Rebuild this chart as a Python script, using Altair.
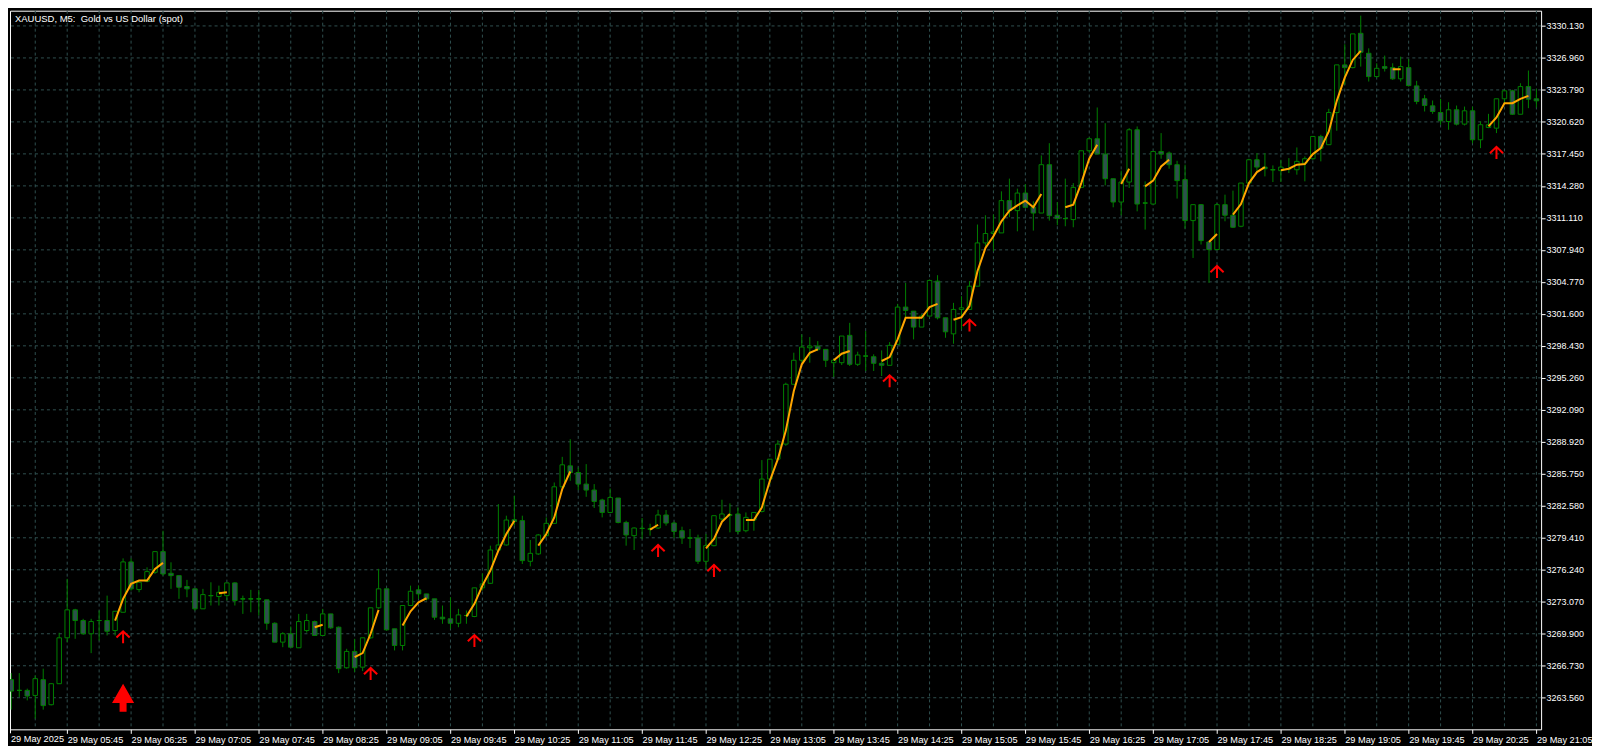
import json
import altair as alt
import pandas as pd

# ---------------- data ----------------
title_text = "XAUUSD, M5:\u00a0 Gold vs US Dollar (spot)"
first_label = "29 May 2025"

opens = [3262.58, 3265.35, 3264.29, 3264.29, 3263.79, 3265.35, 3262.87, 3264.95, 3269.50, 3272.27,
         3271.21, 3269.90, 3271.21, 3271.21, 3270.22, 3272.03, 3277.02, 3274.28, 3275.10, 3275.99,
         3278.04, 3275.89, 3275.66, 3274.58, 3274.35, 3272.37, 3273.68, 3273.59, 3273.68, 3274.94,
         3273.36, 3273.36, 3273.36, 3273.26, 3270.94, 3269.07, 3269.90, 3268.51, 3270.22, 3271.11,
         3269.73, 3271.87, 3270.55, 3266.53, 3268.15, 3266.59, 3269.50, 3272.47, 3274.35, 3270.39,
         3268.74, 3272.70, 3274.25, 3273.85, 3273.36, 3271.54, 3271.38, 3270.94, 3271.71, 3271.61,
         3274.45, 3274.90, 3278.20, 3278.70, 3281.20, 3281.11, 3277.08, 3277.81, 3279.62, 3280.84,
         3284.46, 3286.54, 3285.88, 3284.73, 3284.14, 3283.15, 3281.92, 3283.35, 3280.93, 3279.62,
         3280.34, 3280.28, 3280.38, 3281.67, 3280.87, 3280.11, 3279.39, 3279.39, 3277.08, 3278.63,
         3281.27, 3281.67, 3281.77, 3280.11, 3281.17, 3282.02, 3285.23, 3287.20, 3288.69, 3294.62,
         3297.00, 3298.24, 3298.41, 3298.08, 3296.76, 3296.76, 3299.47, 3296.60, 3297.42, 3297.35,
         3296.70, 3296.50, 3298.58, 3302.27, 3301.87, 3300.29, 3301.38, 3304.84, 3301.21, 3299.62,
         3302.04, 3302.04, 3304.34, 3308.63, 3309.56, 3309.62, 3312.82, 3311.83, 3313.57, 3312.16,
         3311.59, 3316.38, 3311.37, 3311.04, 3310.94, 3314.13, 3317.76, 3318.95, 3317.43, 3314.99,
         3312.68, 3314.66, 3319.84, 3312.58, 3312.48, 3317.69, 3317.53, 3316.38, 3314.90, 3310.84,
         3312.42, 3308.72, 3307.97, 3312.42, 3311.37, 3310.28, 3314.56, 3316.87, 3316.14, 3315.88,
         3315.79, 3315.98, 3315.88, 3316.54, 3316.97, 3319.18, 3318.36, 3321.55, 3326.27, 3326.00,
         3329.40, 3327.42, 3325.11, 3326.10, 3326.00, 3324.89, 3326.00, 3324.19, 3322.91, 3322.21,
         3321.55, 3320.66, 3321.82, 3320.40, 3321.72, 3318.85, 3320.07, 3320.00, 3322.91, 3323.70,
         3321.38, 3324.12, 3322.91]
highs = [3266.07, 3266.00, 3266.00, 3264.46, 3265.77, 3266.44, 3265.00, 3270.00, 3275.34, 3272.37,
         3271.38, 3271.38, 3272.20, 3273.68, 3272.13, 3277.37, 3277.37, 3275.00, 3276.48, 3278.04,
         3280.11, 3276.98, 3275.66, 3275.24, 3274.35, 3274.35, 3275.00, 3274.67, 3274.94, 3275.00,
         3273.68, 3274.25, 3274.25, 3273.26, 3271.04, 3270.05, 3270.62, 3271.87, 3271.87, 3271.21,
         3272.37, 3271.87, 3270.62, 3268.41, 3269.40, 3269.50, 3272.47, 3276.33, 3274.35, 3270.39,
         3272.70, 3274.67, 3274.67, 3273.85, 3273.36, 3272.70, 3273.52, 3272.37, 3272.20, 3274.45,
         3275.89, 3278.63, 3282.75, 3281.60, 3283.57, 3281.60, 3279.19, 3279.79, 3281.43, 3284.89,
         3287.43, 3289.18, 3286.37, 3286.71, 3284.73, 3283.28, 3284.30, 3283.35, 3281.10, 3280.44,
         3281.37, 3280.80, 3282.19, 3282.16, 3281.00, 3280.51, 3280.28, 3279.72, 3279.79, 3281.60,
         3283.18, 3282.82, 3282.42, 3281.92, 3281.92, 3287.11, 3287.20, 3289.08, 3294.78, 3297.75,
         3299.57, 3299.30, 3298.90, 3298.08, 3297.10, 3299.40, 3300.71, 3297.85, 3299.89, 3297.59,
         3297.98, 3298.80, 3302.59, 3304.67, 3301.87, 3301.57, 3305.01, 3305.43, 3301.21, 3302.69,
         3303.35, 3304.84, 3310.45, 3311.37, 3311.44, 3313.74, 3315.00, 3314.01, 3314.46, 3312.75,
         3317.30, 3318.51, 3312.68, 3315.00, 3314.56, 3317.76, 3319.08, 3322.05, 3320.49, 3314.99,
         3315.79, 3320.00, 3320.17, 3314.73, 3317.69, 3319.51, 3317.69, 3316.77, 3316.38, 3312.42,
         3312.48, 3308.72, 3312.58, 3313.41, 3313.81, 3314.56, 3316.97, 3317.53, 3317.53, 3316.31,
         3316.87, 3317.03, 3318.09, 3317.20, 3319.18, 3319.35, 3321.92, 3326.27, 3328.31, 3329.34,
         3331.15, 3327.91, 3326.43, 3327.19, 3326.43, 3327.09, 3326.86, 3324.69, 3323.30, 3322.74,
         3322.91, 3322.57, 3322.24, 3322.14, 3322.14, 3320.66, 3321.42, 3322.91, 3323.80, 3323.80,
         3324.45, 3325.71, 3323.90]
lows = [3262.11, 3262.38, 3263.63, 3263.30, 3261.49, 3262.38, 3262.80, 3264.95, 3269.07, 3269.40,
        3269.80, 3267.98, 3269.23, 3269.73, 3269.73, 3272.03, 3274.18, 3274.01, 3275.00, 3275.83,
        3275.66, 3274.35, 3273.36, 3273.52, 3272.20, 3272.37, 3272.70, 3272.70, 3273.19, 3272.70,
        3271.87, 3272.03, 3271.71, 3270.29, 3269.07, 3268.57, 3268.57, 3268.51, 3270.02, 3269.73,
        3269.73, 3270.39, 3266.00, 3266.44, 3266.10, 3266.20, 3269.40, 3272.37, 3270.22, 3268.25,
        3268.25, 3272.70, 3273.36, 3273.19, 3271.28, 3270.89, 3270.39, 3270.55, 3270.89, 3271.54,
        3274.18, 3274.84, 3278.13, 3278.63, 3280.61, 3276.82, 3276.58, 3277.71, 3279.52, 3280.78,
        3284.40, 3285.06, 3284.14, 3283.47, 3282.36, 3281.43, 3281.89, 3280.84, 3278.63, 3278.20,
        3279.29, 3279.62, 3280.28, 3280.61, 3279.39, 3278.80, 3278.40, 3276.82, 3276.33, 3278.56,
        3281.10, 3279.95, 3279.78, 3279.95, 3280.11, 3281.92, 3284.73, 3287.20, 3288.52, 3294.62,
        3296.76, 3296.76, 3297.91, 3296.33, 3295.35, 3296.53, 3296.43, 3296.43, 3295.94, 3295.94,
        3295.44, 3296.50, 3298.58, 3301.21, 3299.07, 3300.29, 3301.38, 3301.05, 3299.23, 3298.64,
        3300.06, 3302.04, 3304.34, 3307.97, 3307.80, 3309.62, 3311.17, 3309.78, 3312.09, 3309.85,
        3311.59, 3310.84, 3310.38, 3310.28, 3310.18, 3314.13, 3317.53, 3317.43, 3314.33, 3312.16,
        3311.37, 3314.07, 3311.76, 3309.95, 3312.45, 3316.97, 3315.98, 3313.02, 3310.05, 3307.14,
        3308.47, 3304.67, 3307.90, 3310.77, 3310.11, 3310.18, 3314.46, 3315.72, 3315.22, 3314.66,
        3314.66, 3315.55, 3315.39, 3314.73, 3316.87, 3316.71, 3318.36, 3319.74, 3324.29, 3325.93,
        3326.10, 3324.62, 3325.01, 3325.61, 3324.79, 3324.62, 3324.12, 3322.37, 3321.65, 3321.42,
        3320.34, 3319.84, 3320.27, 3320.27, 3318.51, 3318.02, 3320.00, 3319.51, 3322.47, 3321.32,
        3321.38, 3321.98, 3322.05]
closes = [3265.35, 3264.22, 3264.29, 3263.73, 3265.45, 3262.78, 3264.95, 3269.50, 3272.27, 3271.21,
          3269.90, 3271.11, 3271.21, 3270.15, 3272.13, 3277.02, 3274.35, 3275.00, 3276.06, 3278.04,
          3275.83, 3275.66, 3274.51, 3274.35, 3272.37, 3273.78, 3273.68, 3274.01, 3274.94, 3273.19,
          3273.36, 3273.36, 3273.36, 3270.94, 3269.07, 3269.90, 3268.57, 3271.11, 3271.21, 3269.73,
          3271.87, 3270.49, 3266.44, 3268.15, 3266.53, 3269.50, 3272.47, 3274.35, 3270.29, 3268.74,
          3272.70, 3274.11, 3273.85, 3273.36, 3271.54, 3271.38, 3270.94, 3271.77, 3271.71, 3274.45,
          3274.84, 3278.20, 3278.70, 3281.17, 3281.03, 3277.15, 3277.87, 3279.69, 3280.84, 3284.46,
          3286.64, 3285.88, 3284.73, 3284.14, 3283.01, 3281.92, 3283.41, 3280.93, 3279.69, 3280.38,
          3280.34, 3280.28, 3281.67, 3280.87, 3280.04, 3279.39, 3279.39, 3277.08, 3278.63, 3281.60,
          3281.77, 3281.67, 3280.04, 3281.43, 3281.92, 3285.23, 3287.20, 3288.69, 3294.62, 3297.00,
          3298.31, 3298.41, 3298.08, 3297.00, 3297.00, 3299.40, 3296.60, 3297.52, 3297.42, 3296.70,
          3296.50, 3298.48, 3302.27, 3301.94, 3300.29, 3301.38, 3304.91, 3301.21, 3299.82, 3302.04,
          3302.20, 3304.34, 3308.63, 3309.56, 3309.71, 3312.82, 3311.83, 3313.57, 3312.16, 3311.59,
          3316.38, 3311.33, 3311.04, 3311.04, 3314.13, 3317.76, 3318.95, 3317.43, 3314.99, 3312.68,
          3314.66, 3319.84, 3312.48, 3312.58, 3317.69, 3317.43, 3316.38, 3314.80, 3310.84, 3312.42,
          3308.86, 3307.97, 3312.42, 3311.37, 3310.18, 3314.56, 3316.87, 3316.14, 3315.98, 3315.88,
          3316.14, 3315.98, 3316.71, 3316.97, 3319.18, 3318.02, 3321.55, 3326.27, 3326.00, 3329.34,
          3327.52, 3325.11, 3325.93, 3325.93, 3324.89, 3326.10, 3324.22, 3322.64, 3322.25, 3321.65,
          3320.73, 3321.82, 3320.40, 3321.72, 3318.85, 3320.34, 3320.34, 3322.91, 3323.70, 3321.38,
          3324.12, 3322.87, 3322.71]

# orange indicator line (bar index, value); gaps split the segments
line_bar = [14, 15, 16, 17, 18, 19, 20,
            27, 28,
            39, 40,
            44, 45, 46, 47,
            50, 51, 52, 53,
            58, 59, 60, 61, 62, 63, 64,
            67, 68, 69, 70, 71,
            81, 82,
            88, 89, 90, 91,
            93, 94, 95, 96, 97, 98, 99, 100, 101, 102,
            104, 105, 106,
            110, 111, 112, 113, 114, 115, 116, 117,
            119, 120, 121, 122, 123, 124, 125, 126, 127, 128, 129, 130,
            133, 134, 135, 136, 137,
            140, 141,
            143, 144, 145, 146,
            151, 152,
            154, 155, 156, 157, 158,
            160, 161, 162, 163, 164, 165, 166, 167, 168, 169, 170,
            174, 175,
            186, 187, 188, 189, 190, 191]
line_value = [3271.21, 3273.36, 3274.84, 3275.17, 3275.17, 3276.33, 3276.92,
              3273.91, 3274.01,
              3270.55, 3270.79,
              3267.58, 3267.98, 3269.90, 3272.27,
              3270.72, 3272.13, 3273.02, 3273.42,
              3271.61, 3272.86, 3274.67, 3276.16, 3278.14, 3279.79, 3281.10,
              3278.63, 3279.79, 3281.43, 3284.24, 3285.98,
              3280.21, 3280.70,
              3278.36, 3279.29, 3281.00, 3281.77,
              3281.17, 3281.17, 3282.42, 3285.06, 3287.20, 3290.03, 3293.96, 3296.60, 3297.75, 3298.08,
              3297.00, 3297.65, 3297.92,
              3296.93, 3297.32, 3299.07, 3301.21, 3301.21, 3301.21, 3302.27, 3302.59,
              3301.01, 3301.28, 3302.37, 3305.83, 3308.13, 3309.29, 3310.77, 3311.83, 3312.35, 3312.82, 3312.16, 3313.47,
              3312.16, 3312.42, 3314.56, 3316.97, 3318.36,
              3314.46, 3315.98,
              3314.23, 3314.80, 3316.21, 3316.87,
              3308.72, 3309.52,
              3311.44, 3312.48, 3314.56, 3315.65, 3316.14,
              3315.82, 3315.98, 3316.38, 3316.44, 3317.43, 3318.02, 3319.67, 3322.71, 3325.01, 3326.76, 3327.65,
              3325.83, 3325.83,
              3320.17, 3321.06, 3322.47, 3322.47, 3322.91, 3323.20]

arrow_bar = [15, 46, 59, 82, 89, 111, 121, 152, 187]
arrow_price = [3269.55, 3265.92, 3269.18, 3278.11, 3276.13, 3294.92, 3300.44, 3305.75, 3317.55]
big_arrow_bar = [15]
big_arrow_price = [3263.55]

price_ticks = [3263.56, 3266.73, 3269.90, 3273.07, 3276.24, 3279.41, 3282.58, 3285.75, 3288.92,
               3292.09, 3295.26, 3298.43, 3301.60, 3304.77, 3307.94, 3311.11, 3314.28, 3317.45,
               3320.62, 3323.79, 3326.96, 3330.13]
time_ticks = [8, 16, 24, 32, 40, 48, 56, 64, 72, 80, 88, 96, 104, 112, 120, 128, 136, 144,
              152, 160, 168, 176, 184, 192]
time_labels = ["29 May 05:45", "29 May 06:25", "29 May 07:05", "29 May 07:45", "29 May 08:25",
               "29 May 09:05", "29 May 09:45", "29 May 10:25", "29 May 11:05", "29 May 11:45",
               "29 May 12:25", "29 May 13:05", "29 May 13:45", "29 May 14:25", "29 May 15:05",
               "29 May 15:45", "29 May 16:25", "29 May 17:05", "29 May 17:45", "29 May 18:25",
               "29 May 19:05", "29 May 19:45", "29 May 20:25", "29 May 21:05"]
grid_bars = list(range(4, 193, 4))

# ---------------- styling ----------------
W, H = 1534, 720
FONT = "Liberation Sans"
GREEN = "#008000"
BEAR_FILL = "#2F4F4F"
GRID = "#2F4F4F"
ORANGE = "#FFA500"
RED = "#FF0000"
WHITE = "#FFFFFF"

XS = alt.Scale(domain=[0.8375, 192.5875], nice=False, zero=False)
YS = alt.Scale(domain=[3260.43, 3331.64], nice=False, zero=False)

AX_X = alt.Axis(values=time_ticks,
                labelExpr=f"{json.dumps(time_labels)}[round(datum.value/8)-1]",
                orient="bottom", grid=False, domain=False, ticks=True,
                tickColor=WHITE, tickSize=4, labelColor=WHITE, labelFont=FONT,
                labelFontSize=9.2, labelAlign="left", labelBaseline="top",
                labelPadding=2, labelFlush=False, labelOverlap=False, labelBound=False,
                title=None)
AX_Y = alt.Axis(values=price_ticks, format=".3f", orient="right", grid=False,
                domain=False, ticks=True, tickColor=WHITE, tickSize=4,
                labelColor=WHITE, labelFont=FONT, labelFontSize=9,
                labelAlign="left", labelBaseline="middle", labelPadding=1,
                labelOverlap=False, labelFlush=False, title=None)


def X(field):
    return alt.X(field, type="quantitative", scale=XS, axis=AX_X)


def Y(field):
    return alt.Y(field, type="quantitative", scale=YS, axis=AX_Y)


# ---------------- tables ----------------
df = pd.DataFrame({"bar": list(range(len(opens))), "open": opens, "high": highs,
                   "low": lows, "close": closes})
df["body_lo"] = df[["open", "close"]].min(axis=1)
df["body_hi"] = df[["open", "close"]].max(axis=1)
df["left"] = df["bar"] - 0.28
df["right"] = df["bar"] + 0.28
df["kind"] = ["bear" if c < o else "bull" for o, c in zip(opens, closes)]
doji = df[df["open"] == df["close"]]

seg, s = [], 0
for i, b in enumerate(line_bar):
    if i > 0 and b != line_bar[i - 1] + 1:
        s += 1
    seg.append(s)
line_df = pd.DataFrame({"bar": line_bar, "value": line_value, "seg": seg})
arrow_df = pd.DataFrame({"bar": arrow_bar, "price": arrow_price})
big_df = pd.DataFrame({"bar": big_arrow_bar, "price": big_arrow_price})
vgrid_df = pd.DataFrame({"bar": grid_bars})
hgrid_df = pd.DataFrame({"price": price_ticks})
text_df = pd.DataFrame({"t": [title_text]})
date_df = pd.DataFrame({"t": [first_label]})

# ---------------- layers ----------------
vgrid = alt.Chart(vgrid_df).mark_rule(color=GRID, strokeDash=[3, 3], strokeWidth=1).encode(
    x=X("bar"))
hgrid = alt.Chart(hgrid_df).mark_rule(color=GRID, strokeDash=[3, 3], strokeWidth=1).encode(
    y=Y("price"))

wicks = alt.Chart(df).mark_rule(color=GREEN, strokeWidth=1, clip=True).encode(
    x=X("bar"), y=Y("low"), y2="high")

bodies = alt.Chart(df).mark_rect(stroke=GREEN, strokeWidth=1, clip=True).encode(
    x=X("left"), x2="right", y=Y("body_lo"), y2="body_hi",
    fill=alt.Fill("kind:N", scale=alt.Scale(domain=["bull", "bear"],
                                            range=["#000000", BEAR_FILL]), legend=None))

doji_lines = alt.Chart(doji).mark_rule(color=GREEN, strokeWidth=1, clip=True).encode(
    x=X("left"), x2="right", y=Y("close"))

line = alt.Chart(line_df).mark_line(color=ORANGE, strokeWidth=2, clip=True).encode(
    x=X("bar"), y=Y("value"), detail="seg:N")

small_arrows = alt.Chart(arrow_df).mark_point(
    shape="M-1.1,0.05L0,-1L1.1,0.05M0,-1L0,1", size=144, filled=False,
    color=RED, strokeWidth=2, opacity=1).encode(x=X("bar"), y=Y("price"))

big_arrow = alt.Chart(big_df).mark_point(
    shape="M0,-1L0.79,0.36L0.25,0.36L0.25,1L-0.25,1L-0.25,0.36L-0.79,0.36Z",
    size=784, filled=True, color=RED, strokeWidth=0, opacity=1).encode(
    x=X("bar"), y=Y("price"))

title = alt.Chart(text_df).mark_text(align="left", baseline="middle", color=WHITE,
                                     font=FONT, fontSize=9.5).encode(
    x=alt.value(5), y=alt.value(8), text="t:N")

date0 = alt.Chart(date_df).mark_text(align="left", baseline="top", color=WHITE,
                                     font=FONT, fontSize=9.2).encode(
    x=alt.value(1), y=alt.value(H + 6), text="t:N")
date_tick = alt.Chart(date_df).mark_rule(color=WHITE).encode(
    x=alt.value(0.5), y=alt.value(H), y2=alt.value(H + 4))

chart = alt.layer(
    vgrid, hgrid, wicks, bodies, doji_lines, line, small_arrows, big_arrow,
    title, date0, date_tick
).properties(
    width=W, height=H, background="#000000",
    padding={"left": 1, "top": 1, "right": 0, "bottom": 0}
).configure_view(stroke=WHITE, strokeWidth=1)

chart.save("out.html", embed_options={"renderer": "svg", "actions": False})
